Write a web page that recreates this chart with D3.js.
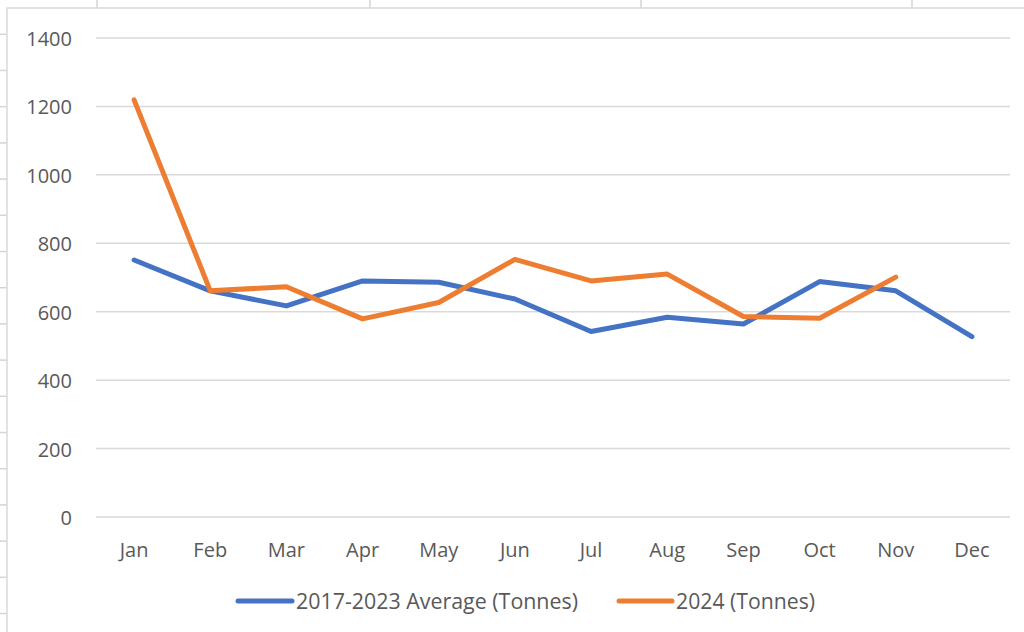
<!DOCTYPE html>
<html>
<head>
<meta charset="utf-8">
<script src="https://cdn.jsdelivr.net/npm/d3@7"></script>
<style>
html,body{margin:0;padding:0;background:#fff;}
svg{display:block;}
text{font-family:"Open Sans",sans-serif;fill:#595959;}
</style>
</head>
<body>
<svg id="chart" width="1024" height="632"></svg>
<script>
const months = ["Jan","Feb","Mar","Apr","May","Jun","Jul","Aug","Sep","Oct","Nov","Dec"];
const avgValues = [751, 661, 617, 690, 686, 637, 542, 584, 564, 688, 661, 527];
const y2024Values = [1219, 661, 673, 579, 627, 753, 690, 710, 586, 581, 701];
const yTicks = [0, 200, 400, 600, 800, 1000, 1200, 1400];
const seriesNames = ["2017-2023 Average (Tonnes)", "2024 (Tonnes)"];
const seriesColors = ["#4472C4", "#ED7D31"];

const svg = d3.select("#chart");
const W = 1024, H = 632;

// spreadsheet background grid (outside chart area)
const colLines = [97, 370, 641, 912];
const rowLines = d3.range(34.3, 632, 36.2);
svg.append("g").selectAll("line").data(colLines).join("line")
  .attr("x1", d => d).attr("x2", d => d).attr("y1", 0).attr("y2", 8)
  .attr("stroke", "#d4d4d4").attr("stroke-width", 1.5);
svg.append("g").selectAll("line").data(rowLines).join("line")
  .attr("x1", 0).attr("x2", 7).attr("y1", d => d).attr("y2", d => d)
  .attr("stroke", "#d4d4d4").attr("stroke-width", 1.5);

// chart area border
svg.append("rect").attr("x", 7).attr("y", 8).attr("width", W).attr("height", H)
  .attr("fill", "#fff").attr("stroke", "#d9d9d9").attr("stroke-width", 1.5);

const x = d3.scaleBand().domain(months).range([96, 1010]);
const y = d3.scaleLinear().domain([0, 1400]).range([517, 38]);
const cx = d => x(d) + x.bandwidth() / 2;

// gridlines
svg.append("g").selectAll("line").data(yTicks).join("line")
  .attr("x1", 96).attr("x2", 1010)
  .attr("y1", d => y(d)).attr("y2", d => y(d))
  .attr("stroke", "#d9d9d9").attr("stroke-width", 1.5);

// y labels
svg.append("g").selectAll("text").data(yTicks).join("text")
  .attr("x", 72).attr("y", d => y(d) + 8)
  .attr("text-anchor", "end").attr("font-size", 20)
  .text(d => d);

// x labels
svg.append("g").selectAll("text").data(months).join("text")
  .attr("x", d => cx(d)).attr("y", 557)
  .attr("text-anchor", "middle").attr("font-size", 20)
  .text(d => d);

const line = d3.line().x((d, i) => cx(months[i])).y(d => y(d));
[avgValues, y2024Values].forEach((vals, k) => {
  svg.append("path").datum(vals)
    .attr("d", line)
    .attr("fill", "none")
    .attr("stroke", seriesColors[k])
    .attr("stroke-width", 5)
    .attr("stroke-linejoin", "round")
    .attr("stroke-linecap", "round");
});

// legend
const legendItems = [{x0: 238, x1: 292, tx: 296}, {x0: 619, x1: 672, tx: 676}];
const lg = svg.append("g");
legendItems.forEach((it, k) => {
  lg.append("line").attr("x1", it.x0).attr("x2", it.x1).attr("y1", 601).attr("y2", 601)
    .attr("stroke", seriesColors[k]).attr("stroke-width", 5).attr("stroke-linecap", "round");
  lg.append("text").attr("x", it.tx).attr("y", 609).attr("font-size", 21)
    .attr("textLength", k === 0 ? 282 : 139).attr("lengthAdjust", "spacingAndGlyphs")
    .text(seriesNames[k]);
});
</script>
</body>
</html>
